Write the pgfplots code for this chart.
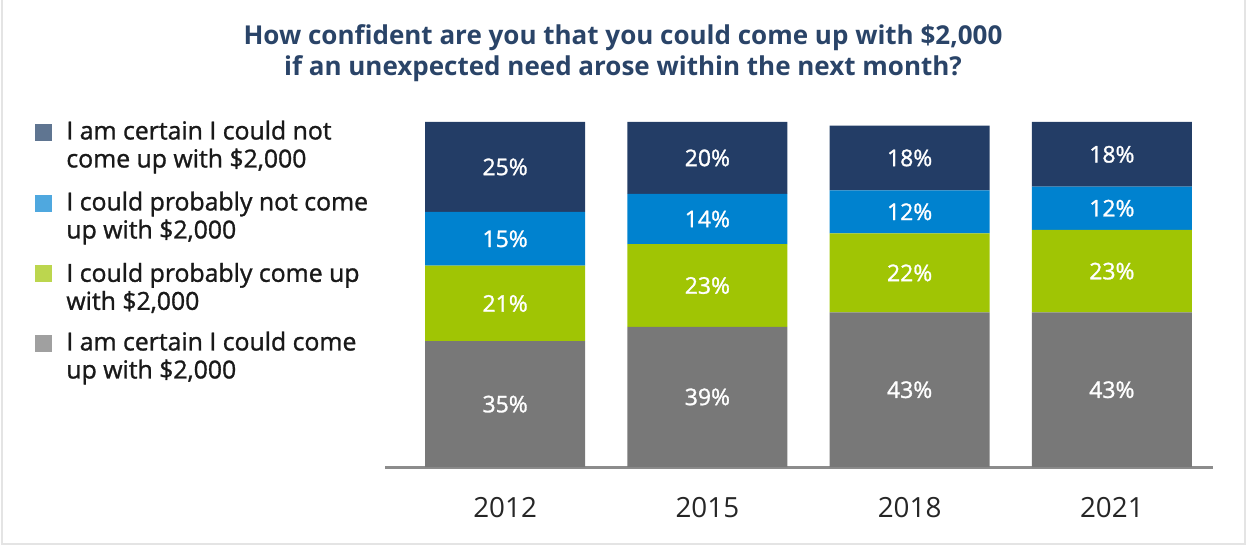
\documentclass[border=0pt]{standalone}
\usepackage{pgfplots}
\pgfplotsset{compat=1.18}
\usepackage{fontspec}
\setmainfont{Open Sans}
\newfontfamily\semibold{Open Sans}[FakeBold=1.2]

\definecolor{navy}{HTML}{233D66}
\definecolor{midblue}{HTML}{0082CF}
\definecolor{lime}{HTML}{A0C504}
\definecolor{stone}{HTML}{787878}
\definecolor{navyL}{HTML}{5F7591}
\definecolor{midblueL}{HTML}{4FA8DF}
\definecolor{limeL}{HTML}{BCD64E}
\definecolor{stoneL}{HTML}{A0A0A0}
\definecolor{titleblue}{HTML}{2A4468}
\definecolor{frame}{HTML}{E4E4E4}

\begin{document}
\begin{tikzpicture}
% 1 px of the reference = 0.5pt
\path[use as bounding box] (-192.5pt,-39.5pt) rectangle (431pt,233.5pt);
\draw[frame, line width=1.2pt] (-191.5pt,233.5pt) -- (-191.5pt,-38.5pt) -- (430pt,-38.5pt) -- (430pt,233.5pt);

\begin{axis}[
  at={(0,0)}, anchor=south west,
  scale only axis,
  width=414pt, height=172.5pt,
  xmin=-0.594, xmax=3.5,
  ymin=0, ymax=96,
  ybar stacked, bar width=80pt,
  axis x line=bottom,
  axis line style={draw=gray!90, line width=1.5pt, -},
  hide y axis,
  xtick={0,1,2,3},
  xticklabels={2012,2015,2018,2021},
  major tick length=0pt,
  xticklabel style={font=\fontsize{13.9}{15}\selectfont, text=black!85, anchor=base, yshift=-25pt},
  point meta=explicit symbolic,
  nodes near coords={\pgfplotspointmeta\%},
  every node near coord/.append style={font=\semibold\fontsize{11.5}{13}\selectfont, text=white, anchor=center},
  clip=false,
]
\addplot[draw=none, fill=stone] coordinates {(0,35) [35] (1,39) [39] (2,43) [43] (3,43) [43]};
\addplot[draw=none, fill=lime] coordinates {(0,21) [21] (1,23) [23] (2,22) [22] (3,23) [23]};
\addplot[draw=none, fill=midblue] coordinates {(0,15) [15] (1,14) [14] (2,12) [12] (3,12) [12]};
\addplot[draw=none, fill=navy] coordinates {(0,25) [25] (1,20) [20] (2,18) [18] (3,18) [18]};
\end{axis}

% title
\node[align=center, text=titleblue, font=\bfseries\fontsize{13}{15.5}\selectfont] at (119pt,207pt)
  {How confident are you that you could come up with \$2,000\\if an unexpected need arose within the next month?};

% legend
\foreach \c/\ys/\yt/\txt in {navyL/167/160/{I am certain I could not\\come up with \$2,000},
                             midblueL/131.5/124.5/{I could probably not come\\up with \$2,000},
                             limeL/96.5/89.5/{I could probably come up\\with \$2,000},
                             stoneL/61.5/54.5/{I am certain I could come\\up with \$2,000}}{
  \fill[\c] (-175pt,\ys pt-4.25pt) rectangle ++(8.5pt,8.5pt);
  \node[anchor=west, align=left, inner sep=0pt, text=black!90, font=\semibold\fontsize{12.4}{14}\selectfont] at (-159.5pt,\yt pt) {\txt};
}
\end{tikzpicture}
\end{document}
